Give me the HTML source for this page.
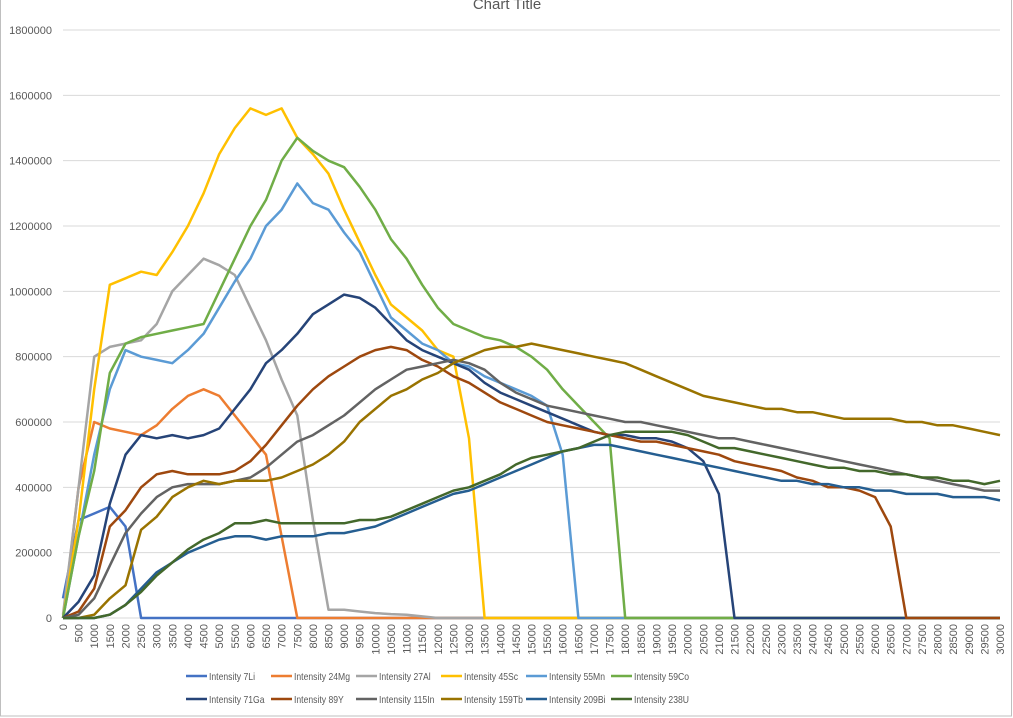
<!DOCTYPE html>
<html><head><meta charset="utf-8"><style>
body{margin:0;background:#fff;font-family:"Liberation Sans",sans-serif;}
#wrap{position:relative;width:1013px;height:718px;overflow:hidden;}
</style></head><body>
<div id="wrap">
<svg id="svg" width="1013" height="718">
<rect x="0.5" y="-2" width="1011" height="718" fill="#fff" stroke="#bfbfbf"/>
<text x="507" y="9" text-anchor="middle" font-size="15" fill="#595959">Chart Title</text>
<g id="grid"></g><g id="lines"></g><g id="axes"></g><g id="legend"></g>
</svg>
</div>
<script>
const yTicks=[0,200000,400000,600000,800000,1000000,1200000,1400000,1600000,1800000];
const names=["Intensity 7Li","Intensity 24Mg","Intensity 27Al","Intensity 45Sc","Intensity 55Mn","Intensity 59Co","Intensity 71Ga","Intensity 89Y","Intensity 115In","Intensity 159Tb","Intensity 209Bi","Intensity 238U"];
const colors=["#4472C4","#ED7D31","#A5A5A5","#FFC000","#5B9BD5","#70AD47","#264478","#9E480E","#636363","#997300","#255E91","#43682B"];
// values in thousands at x = 0,500,...,30000
const sLi=[60,300,320,340,280,0,0,0,0,0,0,0,0,0,0,0,0,0,0,0,0,0,0,0,0,0,0,0,0,0,0,0,0,0,0,0,0,0,0,0,0,0,0,0,0,0,0,0,0,0,0,0,0,0,0,0,0,0,0,0,0];
const sMg=[0,400,600,580,570,560,590,640,680,700,680,620,560,500,250,0,0,0,0,0,0,0,0,0,0,0,0,0,0,0,0,0,0,0,0,0,0,0,0,0,0,0,0,0,0,0,0,0,0,0,0,0,0,0,0,0,0,0,0,0,0];
const sAl=[10,400,800,830,840,850,900,1000,1050,1100,1080,1050,950,850,730,620,300,25,25,20,15,12,10,5,0,0,0,0,0,0,0,0,0,0,0,0,0,0,0,0,0,0,0,0,0,0,0,0,0,0,0,0,0,0,0,0,0,0,0,0,0];
const sSc=[0,300,700,1020,1040,1060,1050,1120,1200,1300,1420,1500,1560,1540,1560,1470,1420,1360,1250,1150,1050,960,920,880,820,800,550,0,0,0,0,0,0,0,0,0,0,0,0,0,0,0,0,0,0,0,0,0,0,0,0,0,0,0,0,0,0,0,0,0,0];
const sMn=[0,250,500,700,820,800,790,780,820,870,950,1030,1100,1200,1250,1330,1270,1250,1180,1120,1020,920,880,840,820,780,770,740,720,700,680,650,500,0,0,0,0,0,0,0,0,0,0,0,0,0,0,0,0,0,0,0,0,0,0,0,0,0,0,0,0];
const sCo=[0,250,450,750,840,860,870,880,890,900,1000,1100,1200,1280,1400,1470,1430,1400,1380,1320,1250,1160,1100,1020,950,900,880,860,850,830,800,760,700,650,600,550,0,0,0,0,0,0,0,0,0,0,0,0,0,0,0,0,0,0,0,0,0,0,0,0,0];
const sGa=[0,50,130,350,500,560,550,560,550,560,580,640,700,780,820,870,930,960,990,980,950,900,850,820,800,780,760,720,690,670,650,630,610,590,570,560,560,550,550,540,520,480,380,0,0,0,0,0,0,0,0,0,0,0,0,0,0,0,0,0,0];
const sY=[0,20,90,280,330,400,440,450,440,440,440,450,480,530,590,650,700,740,770,800,820,830,820,790,770,740,720,690,660,640,620,600,590,580,570,560,550,540,540,530,520,510,500,480,470,460,450,430,420,400,400,390,370,280,0,0,0,0,0,0,0];
const sIn=[0,10,60,160,260,320,370,400,410,410,410,420,430,460,500,540,560,590,620,660,700,730,760,770,780,790,780,760,720,690,670,650,640,630,620,610,600,600,590,580,570,560,550,550,540,530,520,510,500,490,480,470,460,450,440,430,420,410,400,390,390];
const sTb=[0,0,10,60,100,270,310,370,400,420,410,420,420,420,430,450,470,500,540,600,640,680,700,730,750,780,800,820,830,830,840,830,820,810,800,790,780,760,740,720,700,680,670,660,650,640,640,630,630,620,610,610,610,610,600,600,590,590,580,570,560];
const sBi=[0,0,0,10,40,90,140,170,200,220,240,250,250,240,250,250,250,260,260,270,280,300,320,340,360,380,390,410,430,450,470,490,510,520,530,530,520,510,500,490,480,470,460,450,440,430,420,420,410,410,400,400,390,390,380,380,380,370,370,370,360];
const sU=[0,0,0,10,40,80,130,170,210,240,260,290,290,300,290,290,290,290,290,300,300,310,330,350,370,390,400,420,440,470,490,500,510,520,540,560,570,570,570,570,560,540,520,520,510,500,490,480,470,460,460,450,450,440,440,430,430,420,420,410,420];
const series=[sLi,sMg,sAl,sSc,sMn,sCo,sGa,sY,sIn,sTb,sBi,sU];
const NS="http://www.w3.org/2000/svg";
const X0=63,X1=1000,Y0=618,Y1=30;
const xs=v=>X0+(X1-X0)*v/30000;
const ys=v=>Y0-(Y0-Y1)*v/1800000;
function mk(t,a,p){const e=document.createElementNS(NS,t);for(const k in a)e.setAttribute(k,a[k]);p.appendChild(e);return e;}
const grid=document.getElementById('grid'),axes=document.getElementById('axes'),lines=document.getElementById('lines'),leg=document.getElementById('legend');
yTicks.forEach(t=>{
  const l=mk('line',{x1:X0,x2:X1,y1:ys(t),y2:ys(t),stroke:'#d9d9d9','stroke-width':1},grid);
  
  
  const tx=mk('text',{x:52,y:ys(t)+4,'text-anchor':'end','font-size':11,fill:'#595959'},axes);
  tx.textContent=t;
  
  
});
for(let v=0;v<=30000;v+=500){
  const x=xs(v);
  const tx=mk('text',{x:0,y:0,'text-anchor':'end','font-size':11,fill:'#595959',transform:`translate(${x+4},624) rotate(-90)`},axes);
  tx.textContent=v;
  
  
}
series.forEach((s,i)=>{
  const pts=s.map((v,j)=>xs(j*500).toFixed(1)+','+ys(v*1000).toFixed(1)).join(' ');
  const p=mk('polyline',{points:pts,fill:'none',stroke:colors[i],'stroke-width':2.5,'stroke-linejoin':'round'},lines);
  
  
});
const lx=[186,271,356,441,526,611];
names.forEach((n,i)=>{
  const x=lx[i%6],y=i<6?676:699;
  const g=mk('g',{},leg);
  
  
  mk('line',{x1:x,x2:x+21,y1:y,y2:y,stroke:colors[i],'stroke-width':2.5},g);
  const t=mk('text',{x:x+23,y:y+4,'font-size':10.5,fill:'#595959'},g);
  t.textContent=n;
  const w=t.getComputedTextLength();
  t.setAttribute('textLength',(w*0.82).toFixed(1));
  t.setAttribute('lengthAdjust','spacingAndGlyphs');
});
</script>
</body></html>
